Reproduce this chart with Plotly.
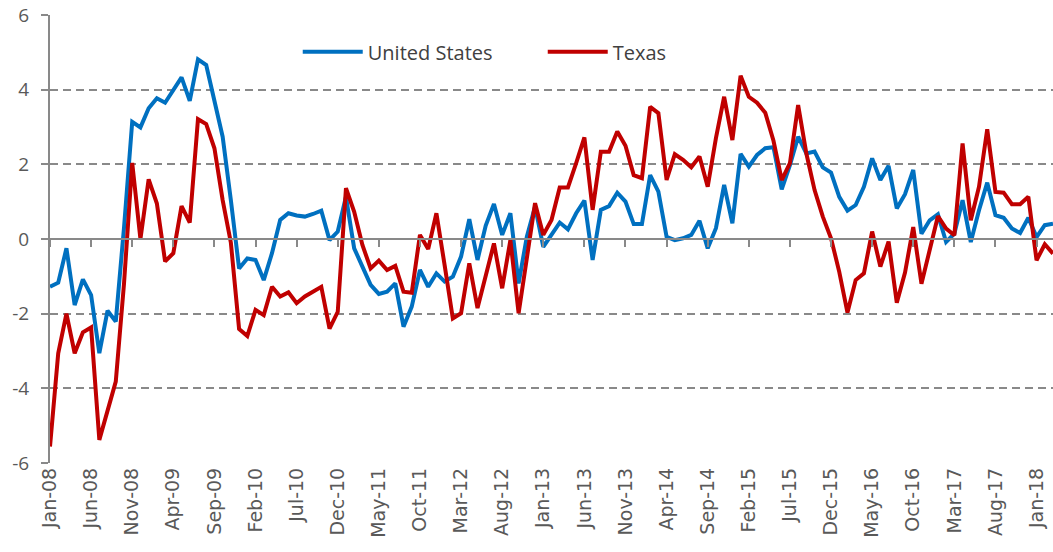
import pandas as pd
import plotly.graph_objects as go

months = pd.date_range("2008-01-01", "2018-03-01", freq="MS").strftime("%b-%y").tolist()

us = [-1.28, -1.17, -0.25, -1.77, -1.08, -1.5, -3.06, -1.92, -2.21, 0.3,
      3.14, 2.99, 3.5, 3.77, 3.65, 4.0, 4.33, 3.7, 4.81, 4.66,
      3.72, 2.74, 1.04, -0.79, -0.52, -0.56, -1.1, -0.38, 0.51, 0.69,
      0.63, 0.6, 0.67, 0.76, -0.03, 0.2, 1.13, -0.25, -0.74, -1.23,
      -1.47, -1.41, -1.19, -2.35, -1.81, -0.83, -1.28, -0.92, -1.14, -1.01,
      -0.47, 0.53, -0.56, 0.36, 0.94, 0.11, 0.69, -1.19, 0.06, 0.87,
      -0.21, 0.13, 0.44, 0.26, 0.69, 1.03, -0.56, 0.78, 0.88, 1.24,
      1.0, 0.4, 0.4, 1.71, 1.27, 0.06, -0.03, 0.02, 0.11, 0.49,
      -0.25, 0.29, 1.45, 0.42, 2.28, 1.94, 2.25, 2.43, 2.46, 1.33,
      1.98, 2.74, 2.29, 2.34, 1.92, 1.78, 1.13, 0.76, 0.91, 1.4,
      2.16, 1.58, 1.96, 0.82, 1.2, 1.85, 0.14, 0.5, 0.66, -0.08,
      0.14, 1.04, -0.08, 0.77, 1.51, 0.64, 0.57, 0.28, 0.16, 0.57,
      0.05, 0.37, 0.41]

texas = [-5.56, -3.06, -2.0, -3.06, -2.5, -2.37, -5.38, -4.58, -3.82, -1.2,
         2.04, 0.0, 1.6, 0.95, -0.6, -0.38, 0.88, 0.44, 3.21, 3.08,
         2.43, 1.04, -0.1, -2.41, -2.6, -1.9, -2.04, -1.28, -1.54, -1.43,
         -1.72, -1.54, -1.41, -1.28, -2.4, -1.95, 1.36, 0.73, -0.16, -0.79,
         -0.58, -0.83, -0.72, -1.41, -1.44, 0.11, -0.27, 0.69, -0.7, -2.13,
         -1.99, -0.65, -1.85, -1.0, -0.12, -1.32, -0.03, -1.99, -0.5, 0.96,
         0.11, 0.51, 1.38, 1.38, 2.03, 2.72, 0.78, 2.34, 2.34, 2.88,
         2.5, 1.71, 1.63, 3.54, 3.37, 1.58, 2.27, 2.12, 1.92, 2.21,
         1.4, 2.7, 3.81, 2.65, 4.37, 3.81, 3.65, 3.38, 2.63, 1.58,
         2.03, 3.59, 2.29, 1.31, 0.6, 0.02, -0.88, -1.97, -1.1, -0.92,
         0.2, -0.74, -0.07, -1.71, -0.9, 0.32, -1.2, -0.3, 0.61, 0.28,
         0.1, 2.56, 0.5, 1.4, 2.94, 1.26, 1.24, 0.93, 0.93, 1.13,
         -0.57, -0.14, -0.39]

tick_labels = months[::5]
y_ticks = [-6, -4, -2, 0, 2, 4, 6]
y_tick_text = ["-6", "-4", "-2", "0", "2", "4", "6"]

BLUE = "#0070C0"
RED = "#C00000"
GRID = "#898989"
TXT = "#595959"

fig = go.Figure()
fig.add_trace(go.Scatter(x=months, y=us, mode="lines", name="United States",
                         line=dict(color=BLUE, width=4)))
fig.add_trace(go.Scatter(x=months, y=texas, mode="lines", name="Texas",
                         line=dict(color=RED, width=4)))

# helper trace holding the zero-line axis with its tick marks
fig.add_trace(go.Scatter(x=months, y=[None] * len(months), xaxis="x2",
                         showlegend=False, hoverinfo="skip"))

fig.update_layout(
    width=1053, height=552,
    margin=dict(l=50, r=0, t=15, b=89, autoexpand=False),
    paper_bgcolor="white", plot_bgcolor="white",
    font=dict(family="Open Sans", color=TXT),
    showlegend=True,
    legend=dict(orientation="h", x=0.247, y=0.918, xanchor="left", yanchor="middle",
                font=dict(size=20, color="#404040", family="Open Sans"),
                bgcolor="rgba(0,0,0,0)", itemwidth=60, entrywidth=170),
    xaxis=dict(type="category", categoryorder="array", categoryarray=months,
               range=[0, len(months) - 1], tickmode="array",
               tickvals=tick_labels, ticktext=tick_labels, tickangle=-90,
               showgrid=False, zeroline=False, showline=False, ticks="",
               automargin=False,
               tickfont=dict(family="DejaVu Sans", size=19, color=TXT)),
    xaxis2=dict(type="category", categoryorder="array", categoryarray=months,
                matches="x", overlaying="x", anchor="free", position=0.5,
                side="bottom", showline=True, linecolor=GRID, linewidth=2,
                ticks="outside", ticklen=7, tickwidth=1.5, tickcolor=GRID,
                tickmode="array", tickvals=tick_labels, showticklabels=False,
                showgrid=False, zeroline=False),
    yaxis=dict(range=[-6, 6], tickmode="array", tickvals=y_ticks, ticktext=y_tick_text,
               showgrid=True, gridcolor=GRID,
               griddash="8px,5px", gridwidth=1.5, zeroline=False,
               showline=True, linecolor=GRID, linewidth=2, automargin=False,
               ticks="outside", ticklen=7, tickcolor=GRID, tickwidth=1.5,
               ticklabelstandoff=8, ticklabeloverflow="allow",
               tickfont=dict(size=19, color=TXT, family="Open Sans")),
)

fig.write_html("out.html", config={"displayModeBar": False},
               post_script="document.body.style.margin='0px';")
